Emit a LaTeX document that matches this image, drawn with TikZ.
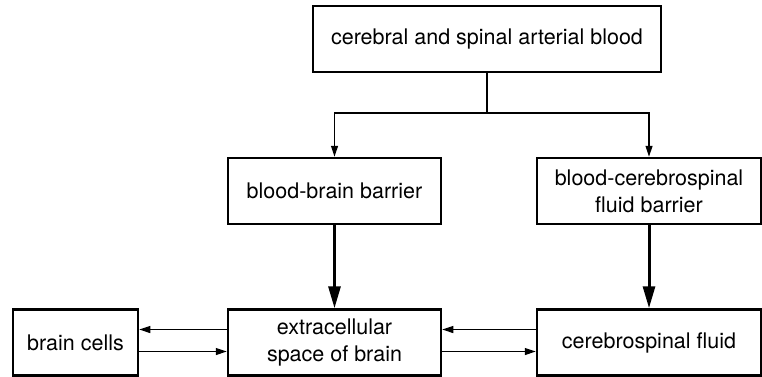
\documentclass[tikz,border=0pt]{standalone}
\usepackage{fontspec}
\setmainfont{TeX Gyre Heros}
\usepackage{tikz}
\usetikzlibrary{positioning,arrows.meta}

\begin{document}
\begin{tikzpicture}[x=1pt,y=-1pt,on grid,font=\fontsize{21.5}{27}\selectfont,
	every box/.style={draw,line width=2.5pt,align=center,minimum height=66pt,inner sep=0pt},
	box/.style={every box,minimum width=#1},
	thin arrow/.style={line width=1.2pt,-{Triangle[length=11pt,width=7pt]}},
	thick arrow/.style={line width=3pt,-{Triangle[length=22pt,width=12pt]}}]
	\useasboundingbox (0,0) rectangle (762,376);
	\node[box=348pt] (blood) at (487,39) {cerebral and spinal arterial blood};
	\node[box=213pt] (bbb) [below left=152pt and 152.5pt of blood] {blood-brain barrier};
	\node[box=224pt] (bcsfb) [right=314.5pt of bbb] {blood-cerebrospinal\\fluid barrier};
	\node[box=213pt] (ecs) [below=151.5pt of bbb] {extracellular\\space of brain};
	\node[box=224pt] (csf) [right=314.5pt of ecs] {cerebrospinal fluid};
	\node[box=125pt] (cells) [left=259pt of ecs] {brain cells};
	\coordinate (split) at (487,113);
	\draw[line width=1.2pt] (blood.south) -- (split);
	\draw[thin arrow] (split) -| (bbb.north);
	\draw[thin arrow] (split) -| (bcsfb.north);
	\draw[thick arrow] (bbb) -- (ecs);
	\draw[thick arrow] (bcsfb) -- (csf);
	\draw[thin arrow] ([yshift=13pt]ecs.west) -- ([yshift=13pt]cells.east);
	\draw[thin arrow] ([yshift=-9pt]cells.east) -- ([yshift=-9pt]ecs.west);
	\draw[thin arrow] ([yshift=13pt]csf.west) -- ([yshift=13pt]ecs.east);
	\draw[thin arrow] ([yshift=-9pt]ecs.east) -- ([yshift=-9pt]csf.west);
\end{tikzpicture}
\end{document}
